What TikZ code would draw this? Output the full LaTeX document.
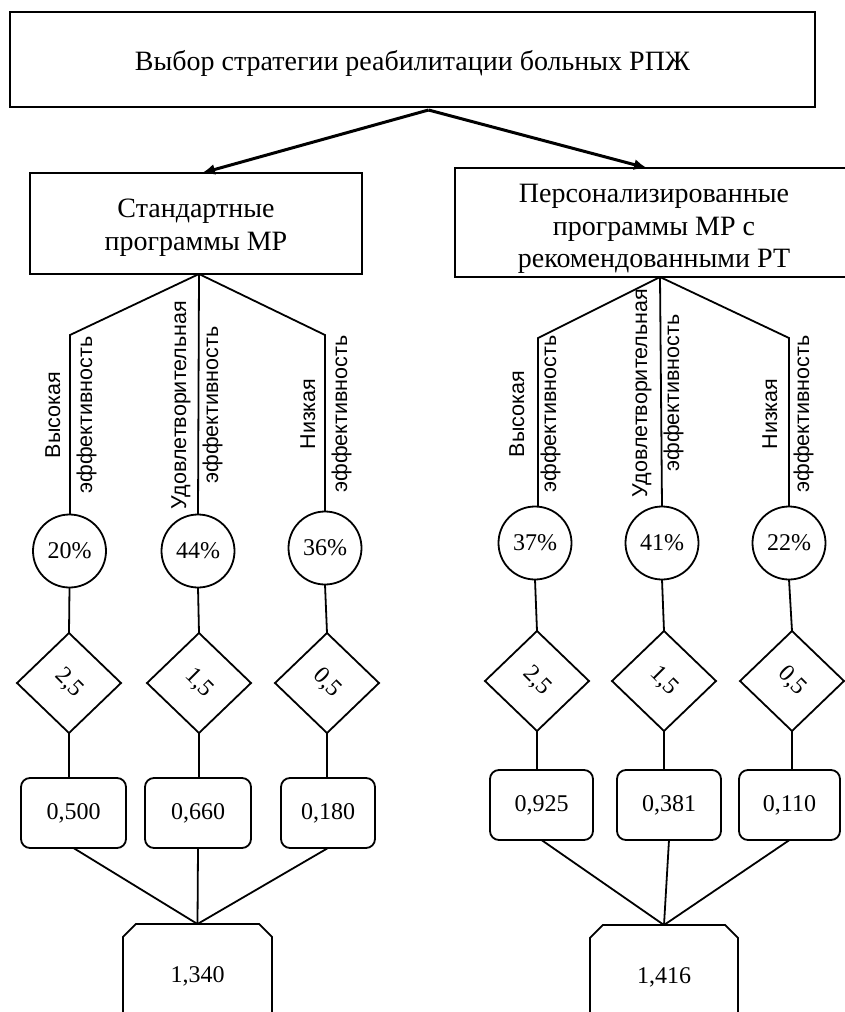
\documentclass[tikz,border=0pt]{standalone}
\usepackage{fontspec}
\usepackage{graphicx}
\setmainfont{Liberation Serif}
\newfontfamily\lsans{Liberation Sans}
\usetikzlibrary{shapes.geometric,shapes.misc,arrows.meta}
\newcommand{\lowered}[2]{\raisebox{-#1}[\height][\depth]{\begin{tabular}{@{}c@{}}#2\end{tabular}}}
\begin{document}
\begin{tikzpicture}[x=1pt,y=-1pt,
 every node/.style={inner sep=0pt, outer sep=0pt},
 box/.style={draw, line width=2pt, rectangle, align=center, font=\fontsize{28}{32.5}\selectfont},
 pct/.style={draw, circle, line width=1.8pt, minimum size=73pt, font=\fontsize{24}{28}\selectfont},
 dia/.style={draw, diamond, line width=1.8pt, minimum width=104pt, minimum height=100pt, font=\fontsize{24}{28}\selectfont},
 val/.style={draw, rectangle, rounded corners=9pt, line width=1.8pt, minimum height=70pt, font=\fontsize{24}{28}\selectfont},
 res/.style={draw, chamfered rectangle, chamfered rectangle corners={north west,north east}, chamfered rectangle xsep=15pt, line width=1.8pt, minimum height=104pt, font=\fontsize{24}{28}\selectfont},
 lbl/.style={rotate=90, align=center, font=\lsans\fontsize{21.5}{32}\selectfont},
 conn/.style={line width=1.8pt},
 arr/.style={line width=3pt, -{Latex[length=13pt,width=11pt]}}
]
\useasboundingbox (0,0) rectangle (845,1012);
\clip (0,0) rectangle (845,1012);
% top
\node[box, minimum width=805pt, minimum height=95pt] (top) at (412.5,59.5) {\lowered{4pt}{Выбор стратегии реабилитации больных РПЖ}};
\node[box, minimum width=332pt, minimum height=101pt] (lbox) at (196,223.5) {\lowered{4pt}{Стандартные\\программы МР}};
\node[box, minimum width=398pt, minimum height=109pt] (rbox) at (654,222.5) {\lowered{6pt}{Персонализированные\\программы МР с\\рекомендованными РТ}};
\coordinate (a0) at ([xshift=16pt,yshift=-3pt]top.south);
\draw[arr] (a0) -- ([xshift=6pt]lbox.north);
\draw[arr] (a0) -- ([xshift=-7pt]rbox.north);
% circles
\node[pct] (c1) at (69.5,551) {20\%};
\node[pct] (c2) at (198,551) {44\%};
\node[pct] (c3) at (325,548) {36\%};
\node[pct] (c4) at (535,543) {37\%};
\node[pct] (c5) at (662,543) {41\%};
\node[pct] (c6) at (789,543) {22\%};
% branches
\coordinate (k1) at (70,335);
\coordinate (k3) at (325,335);
\coordinate (ls) at ([xshift=3pt]lbox.south);
\draw[conn] (ls) -- (k1) -- (k1 |- c1.north);
\draw[conn] (ls) -- (c2.north);
\draw[conn] (ls) -- (k3) -- (k3 |- c3.north);
\coordinate (k4) at (538,338);
\coordinate (k6) at (789,338);
\coordinate (rs) at ([xshift=6pt]rbox.south);
\draw[conn] (rs) -- (k4) -- (k4 |- c4.north);
\draw[conn] (rs) -- (c5.north);
\draw[conn] (rs) -- (k6) -- (k6 |- c6.north);
% labels
\node[lbl] (l1) at (71,415) {Высокая\\эффективность};
\node[lbl] (l2) at (197,405) {Удовлетворительная\\эффективность};
\node[lbl] (l3) at (326,414) {Низкая\\эффективность};
\node[lbl] (l4) at (535,414) {Высокая\\эффективность};
\node[lbl] (l5) at (658,393) {Удовлетворительная\\эффективность};
\node[lbl] (l6) at (788,414) {Низкая\\эффективность};
% diamonds
\node[dia] (d1) at (69,683) {\rotatebox{-45}{2,5}};
\node[dia] (d2) at (199,683) {\rotatebox{-45}{1,5}};
\node[dia] (d3) at (327,683) {\rotatebox{-45}{0,5}};
\node[dia] (d4) at (537,681) {\rotatebox{-45}{2,5}};
\node[dia] (d5) at (664,681) {\rotatebox{-45}{1,5}};
\node[dia] (d6) at (792,681) {\rotatebox{-45}{0,5}};
\foreach \i in {1,...,6}{\draw[conn] (c\i.south) -- (d\i.north);}
% values
\node[val, minimum width=105pt] (b1) at (73.5,813) {0,500};
\node[val, minimum width=106pt] (b2) at (198,813) {0,660};
\node[val, minimum width=94pt] (b3) at (328,813) {0,180};
\node[val, minimum width=103pt] (b4) at (541.5,805) {0,925};
\node[val, minimum width=104pt] (b5) at (669,805) {0,381};
\node[val, minimum width=101pt] (b6) at (789.5,805) {0,110};
\foreach \i in {1,...,6}{\draw[conn] (d\i.south) -- (d\i.south |- b\i.north);}
% results
\node[res, minimum width=149pt] (r1) at (197.5,976) {1,340};
\node[res, minimum width=148pt] (r2) at (664,977) {1,416};
\foreach \i in {1,2,3}{\draw[conn] (b\i.south) -- (r1.north);}
\foreach \i in {4,5,6}{\draw[conn] (b\i.south) -- (r2.north);}
\end{tikzpicture}
\end{document}
